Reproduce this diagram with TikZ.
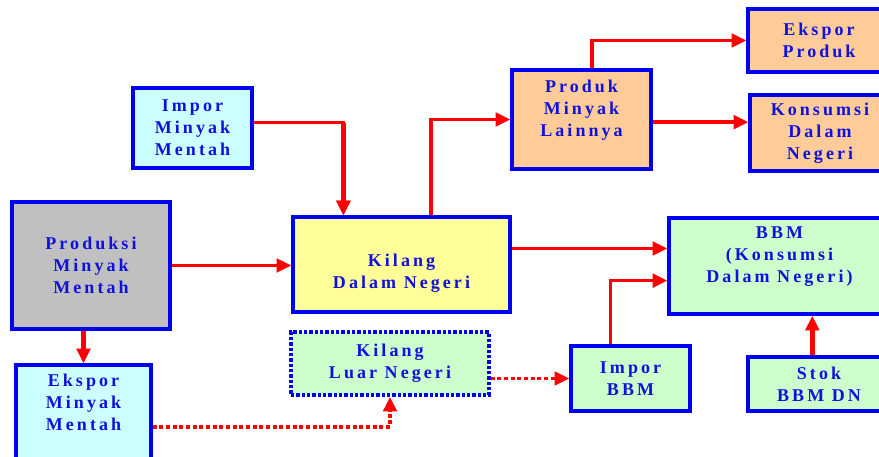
\documentclass[tikz,border=0pt]{standalone}
\usepackage{fontspec}
\setmainfont{Liberation Serif}[LetterSpace=17]
\usetikzlibrary{arrows.meta}
\definecolor{kbiru}{HTML}{0000F0}
\definecolor{kteks}{HTML}{1010DD}
\definecolor{kcyan}{HTML}{CCFFFF}
\definecolor{kabu}{HTML}{C0C0C0}
\definecolor{kuning}{HTML}{FFFF99}
\definecolor{khijau}{HTML}{CCFFCC}
\definecolor{kjingga}{HTML}{FFCC99}
\begin{document}
\begin{tikzpicture}[x=0.75pt,y=-0.75pt,>={Triangle[length=11pt,width=10pt]},
  kotak/.style={draw=kbiru,line width=2.4pt,fill=#1,text=kteks,align=center,
    font=\fontsize{13.5}{16.5}\selectfont\bfseries,inner sep=0pt},
  sz/.style 2 args={minimum width=#1*0.75pt,minimum height=#2*0.75pt},
  alir/.style={draw=red,line width=2.6pt,->},
  tebal/.style={line width=3.4pt},
  titik/.style={draw=red,line width=2.6pt,dash pattern=on 3pt off 2pt,->}]
\useasboundingbox (0,0) rectangle (879,457);
\clip (0,0) rectangle (879,457);
\node[kotak=kcyan,sz={119}{80}] (impormm) at (192.5,128) {Impor\\Minyak\\Mentah};
\node[kotak=kabu,sz={158}{127}] (produksi) at (91,265.5) {Produksi\\Minyak\\Mentah};
\node[kotak=kcyan,sz={135}{105}] (ekspormm) at (83.5,417.5) {Ekspor\\Minyak\\Mentah\\[6pt]};
\node[kotak=kuning,sz={217}{95}] (kilangdn) at (401.5,264.5) {\rule{0pt}{22pt}Kilang\\Dalam Negeri};
\node[kotak=khijau,sz={198}{63},line width=2.6pt,dash pattern=on 2.4pt off 1.6pt] (kilangln) at (390,363.5) {Kilang\\Luar Negeri};
\node[kotak=kjingga,sz={139}{99}] (produk) at (581.5,119.5) {Produk\\Minyak\\Lainnya\\[1pt]};
\node[kotak=kjingga,sz={142}{63}] (eksporprod) at (819,40.5) {Ekspor\\Produk};
\node[kotak=kjingga,sz={140}{76}] (konsumsi) at (820,133) {Konsumsi\\Dalam\\Negeri};
\node[kotak=khijau,sz={221}{96}] (bbm) at (779.5,266) {BBM\\(Konsumsi\\Dalam Negeri)\\[1pt]};
\node[kotak=khijau,sz={119}{65}] (imporbbm) at (630.5,378.5) {Impor\\BBM};
\node[kotak=khijau,sz={142}{54}] (stok) at (819,384) {Stok\\BBM DN};
\draw[alir] ([yshift=4pt]impormm.east) -| ([xshift=39pt]kilangdn.north west);
\draw[alir,tebal] ([xshift=39pt,yshift=4pt]impormm.east -| kilangdn.north west) -- ([xshift=39pt]kilangdn.north west);
\draw[alir] (produksi.east) -- (produksi.east -| kilangdn.west);
\draw[alir,tebal] (produksi.south -| ekspormm.north) -- (ekspormm.north);
\draw[titik] ([yshift=-7pt]ekspormm.east) -| (kilangln.south);
\draw[alir] ([xshift=22pt]kilangdn.north) |- (produk.west);
\draw[alir] ([yshift=12pt]kilangdn.east) -- ([yshift=12pt]kilangdn.east -| bbm.west);
\draw[alir] ([xshift=8pt]produk.north) |- (eksporprod.west);
\draw[alir] ([yshift=-2pt]produk.east) -- ([yshift=-2pt]produk.east -| konsumsi.west);
\draw[titik] (kilangln.east |- imporbbm.west) -- (imporbbm.west);
\draw[alir] ([xshift=-15pt]imporbbm.north) |- ([yshift=-11pt]bbm.west);
\draw[alir,tebal] ([xshift=-5pt]stok.north) -- ([xshift=-5pt]stok.north |- bbm.south);
\end{tikzpicture}
\end{document}
